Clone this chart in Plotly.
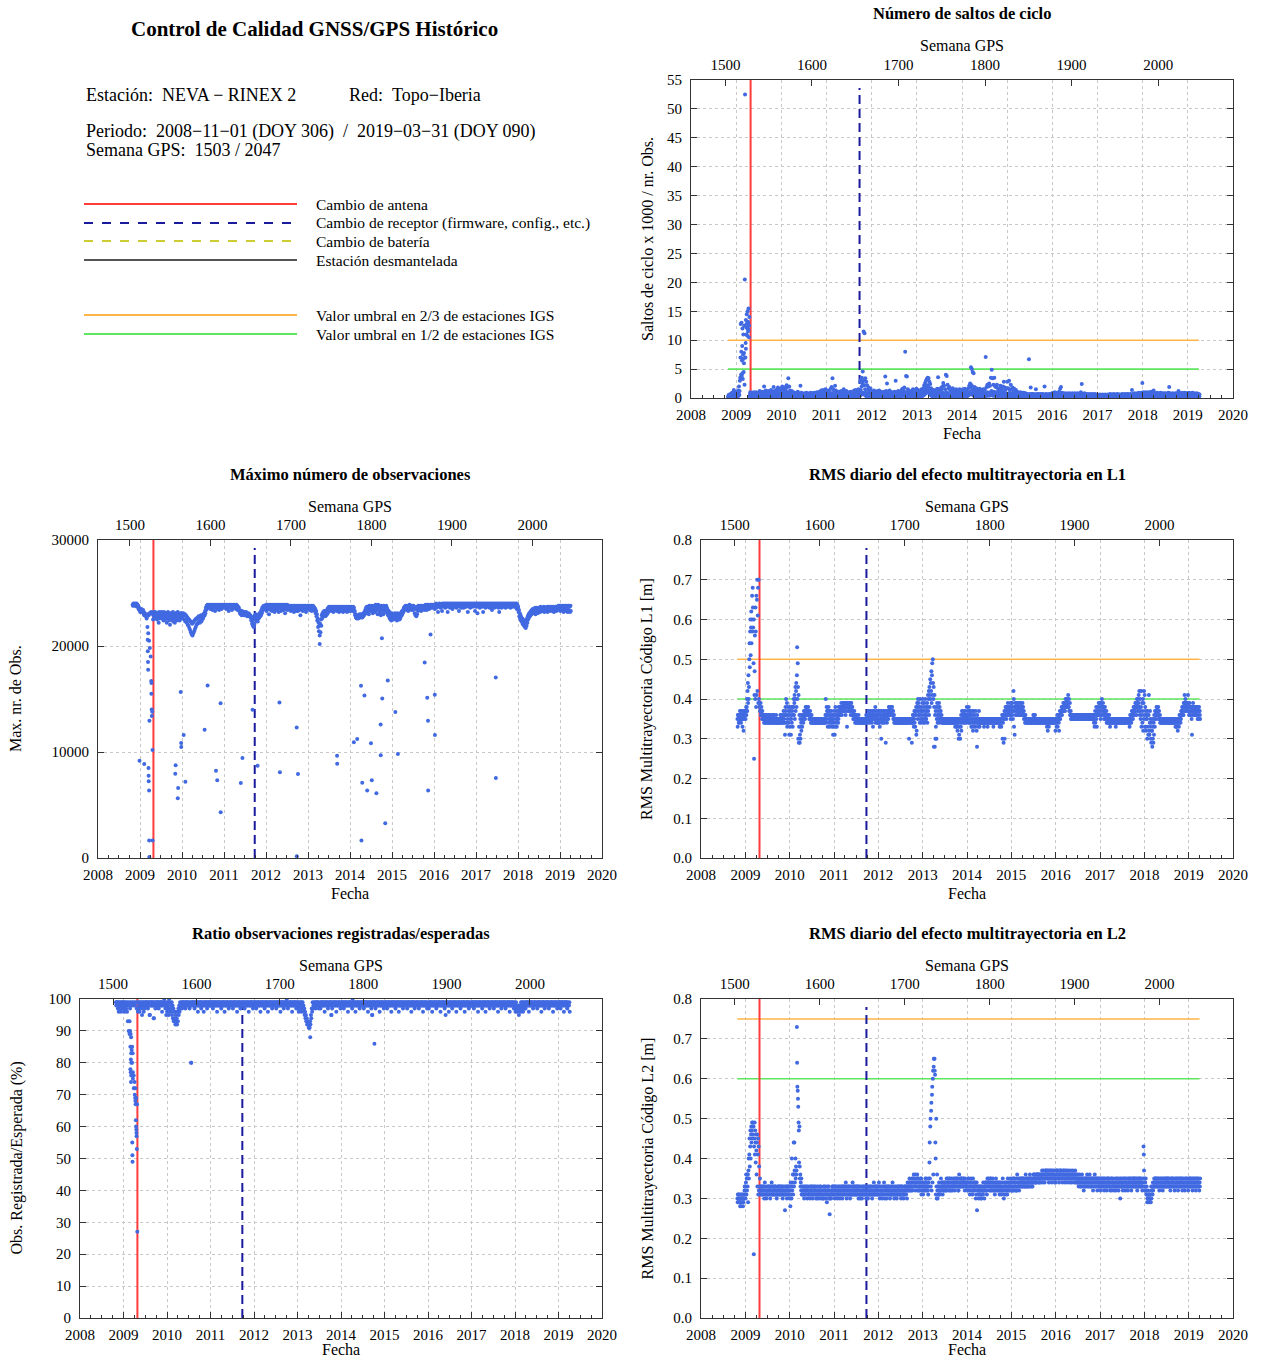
import plotly.graph_objects as go
from datetime import datetime, timedelta

# ---------------------------------------------------------------- data ----
# Data are daily samples taken on fixed days of each GPS week (blocks = calendar years)
GPS_EPOCH = datetime(1980, 1, 6)
YEAR_START_WEEK = [1503, 1512, 1564, 1616, 1668, 1721, 1773, 1825, 1877, 1929, 1981, 2033]
YEAR_TICKS = list(range(2008, 2021))

ANTENNA_CHANGES = ["2009-04-27"]
RECEIVER_CHANGES = ["2011-09-25"]
PERIOD = ["2008-10-26", "2019-03-31"]

# thresholds [2/3 IGS, 1/2 IGS]
CS_THRESH = [10, 5]
L1_THRESH = [0.5, 0.4]
L2_THRESH = [0.75, 0.6]

# ---- RMS multipath L1 (cm), samples on day 1 / 3 / 5 of each week
L1_D1 = [
 [35,36,34,37,35,36,33,36,35],
 [36,37,38,42,46,50,57,58,60,68,49,41,40, 38,65,61,70,38,37,36,35,35,35,36,34,35,
  36,34,35,34,36,35,34,35,36,34,35,34,35, 34,35,34,35,34,36,35,35,31,37,36,35,34],
 [31,33,31,34,33,38,39,40,42,46,49,41,36, 35,34,36,35,36,37,36,37,38,36,37,36,35,
  34,35,34,35,34,35,34,35,34,35,34,35,34, 35,34,35,34,40,38,37,36,35,36,35,36,34],
 [35,34,36,35,33,36,35,37,38,37,36,38,39, 37,38,39,33,38,39,37,38,39,36,37,36,35,
  36,35,34,35,34,35,34,35,34,35,34,35,35, 34,36,35,36,34,37,36,35,36,37,36,35,36],
 [36,35,34,36,37,35,34,36,35,37,36,34,36, 37,38,36,37,38,36,35,35,34,35,34,35,34,
  35,34,35,34,35,34,35,34,35,34,35,30,34, 35,34,34,36,35,37,36,32,38,37,36,40,34,37],
 [37,35,39,36,38,36,38,40,43,45,42,46,50, 43,41,30,38,39,37,36,38,36,35,34,35,34,
  35,34,35,34,35,34,35,34,35,34,35,34,35, 34,33,32,34,31,35,33,34,36,37,35,36,34],
 [38,36,35,37,34,36,33,35,37,34,33,35,28, 34,35,33,34,35,34,35,34,35,34,35,34,35,
  34,35,34,35,34,35,34,35,34,35,34,35,34, 35,35,34,30,36,35,37,36,38,37,36,38,37],
 [38,37,38,42,37,39,38,36,39,37,38,36,37, 38,36,37,35,36,34,35,34,35,34,35,34,35,
  35,36,34,35,34,35,34,35,34,35,34,35,34, 35,34,35,35,34,35,34,35,34,35,34,35,34],
 [34,35,34,33,35,36,35,37,36,38,37,39,38, 39,40,39,38,37,36,36,35,36,35,36,35,36,
  35,36,35,36,35,36,35,36,35,36,35,36,35, 36,35,36,35,36,35,36,35,37,36,33,38,37],
 [38,37,39,40,38,37,36,37,35,36,34,35,34, 35,34,35,34,35,34,35,34,35,34,35,34,35,
  34,35,34,35,34,35,34,35,35,34,35,36,35, 37,36,38,37,39,38,40,39,42,40,38,36,37],
 [39,36,38,32,35,33,36,31,33,29,32,30,34, 35,36,37,38,37,36,35,34,35,34,35,34,35,
  34,35,34,35,34,35,34,35,34,35,34,34,35, 33,34,35,34,36,35,37,38,36,39,38,37,39],
 [38,37,39,36,38,31,37,36,38,37,36,38,37,35,37],
]
L1_D3 = [
 [33,35,36,35,34,37,35,32,37],
 [37,38,40,44,40,54,60,62,66,63,60,47,63, 66,70,68,40,39,39,38,37,36,34,35,36,34,
  35,35,36,35,34,35,36,34,35,35,34,35,34, 35,34,35,36,35,34,37,36,36,40,39,38,37],
 [36,37,35,36,38,40,41,43,44,53,43,29,29, 30,32,33,36,37,36,38,38,37,38,36,35,36,
  36,34,35,34,35,34,35,34,35,34,35,34,35, 34,35,34,35,36,35,33,38,37,34,37,33,36],
 [33,36,38,37,36,37,38,36,37,39,38,37,38, 39,36,37,38,39,38,39,36,37,38,35,35,36,
  34,36,35,34,35,34,35,34,35,34,35,34,34, 36,35,37,35,36,35,34,36,37,35,38,36,34],
 [34,37,36,35,30,36,37,35,34,36,35,36,37, 38,37,38,36,36,37,36,34,35,34,35,34,35,
  34,35,34,35,34,35,34,35,34,35,34,35,35, 34,29,35,34,37,33,38,37,35,39,38,35,38,35],
 [40,38,34,40,35,39,41,42,38,40,47,49,44, 28,28,37,30,36,38,39,35,37,36,35,34,35,
  34,35,34,35,34,35,34,35,34,35,34,35,33, 35,34,35,30,35,30,36,37,35,34,36,37,36],
 [35,37,38,34,36,33,37,32,34,36,35,34,36, 35,37,34,35,34,35,34,33,34,35,34,35,34,
  35,34,35,34,35,33,35,34,35,34,35,34,35, 34,34,35,36,29,37,36,38,37,39,38,36,39],
 [36,39,35,40,31,36,37,38,37,38,36,39,38, 37,38,35,36,34,35,34,35,34,35,34,35,34,
  36,35,36,34,35,34,35,34,35,34,35,34,35, 34,35,34,33,32,34,35,34,35,34,35,34,35],
 [32,34,35,36,34,35,37,36,38,37,39,38,40, 38,39,41,40,39,37,35,36,35,36,35,36,35,
  36,35,36,35,36,35,36,35,36,35,36,35,36, 35,36,35,36,35,36,35,33,34,38,37,36,39],
 [36,39,38,37,39,38,37,35,37,34,36,34,35, 34,35,34,35,34,35,33,35,34,35,34,35,34,
  35,34,35,34,35,34,35,34,34,35,36,35,37, 36,38,37,39,38,40,39,41,38,37,42,39,40],
 [35,41,33,36,30,36,41,34,35,34,28,33,31, 33,37,38,36,38,37,36,35,34,35,34,35,34,
  35,34,35,34,35,34,35,34,35,34,35,35,34, 35,32,34,36,35,37,36,37,39,41,40,39,38],
 [41,39,36,38,37,38,39,38,36,38,37,37,36,38,36],
]
L1_D5 = [
 [36,34,35,36,37,35,36,37,36],
 [35,36,37,39,43,48,51,54,57,58,25,56,57, 41,42,39,39,37,36,37,36,35,36,34,35,35,
  34,36,34,35,35,34,35,36,34,35,36,34,35, 34,35,36,34,35,35,34,34,38,34,33,34,36],
 [38,35,38,37,36,36,35,37,38,40,30,33,31, 33,36,35,34,35,35,37,36,36,37,35,37,34,
  35,35,34,35,35,34,35,35,34,35,35,34,35, 35,34,35,36,34,37,36,34,33,35,34,35,31],
 [37,31,33,34,35,34,36,38,36,38,37,39,37, 38,39,38,39,37,37,38,39,38,37,36,37,34,
  35,34,35,36,35,35,34,35,35,34,35,35,36, 35,34,36,37,35,36,37,33,35,36,34,37,35],
 [37,34,33,37,35,34,36,37,36,29,37,35,35, 36,36,37,38,37,35,34,35,35,35,34,35,34,
  35,35,34,35,35,34,35,35,34,35,35,34,35, 35,35,36,33,34,36,31,39,40,36,34,37,36,39],
 [34,36,37,35,37,34,37,36,41,44,39,41,40, 38,36,33,35,34,35,34,37,35,34,35,35,34,
  35,35,34,35,35,34,35,35,34,35,35,34,34, 33,35,34,33,33,34,32,35,37,36,34,35,35],
 [36,34,36,35,37,35,34,36,33,35,37,32,34, 33,34,35,35,34,35,35,34,35,35,34,33,35,
  35,35,34,35,35,34,35,35,34,35,35,34,33, 35,33,36,34,35,30,38,35,36,36,37,37,35],
 [39,36,37,33,38,38,39,37,36,39,37,38,36, 39,37,36,34,35,35,35,35,34,35,35,34,35,
  34,34,35,35,34,35,35,34,35,35,34,35,35, 35,35,34,34,35,33,34,35,35,34,35,35,34],
 [35,33,36,35,32,37,36,38,37,39,38,37,39, 40,38,38,37,36,35,36,36,35,36,36,35,36,
  36,36,35,36,36,35,36,36,35,36,36,35,36, 36,36,35,36,36,35,34,36,36,35,36,37,36],
 [39,35,36,38,36,35,38,36,34,35,35,36,33, 35,35,34,35,35,34,35,35,34,35,35,34,35,
  35,35,34,35,35,34,35,35,35,33,34,34,36, 35,37,36,38,36,37,38,37,36,35,33,34,32],
 [42,33,37,35,37,31,32,37,30,32,35,29,36, 37,35,36,37,35,35,34,35,35,35,34,35,35,
  35,35,34,35,35,34,35,35,34,35,35,33,33, 34,35,33,35,34,36,38,36,38,37,39,38,37],
 [37,36,38,37,35,36,38,37,37,36,38,35,38,37,35],
]

# ---- RMS multipath L2 (cm), samples on day 1 / 3 / 5 of each week
L2_D1 = [
 [30,31,29,30,28,31,30,29,30],
 [31,34,35,33,37,41,43,46,47,49,48,45,47, 46,44,41,43,31,32,33,31,32,33,31,32,30,
  32,31,33,32,31,32,33,31,32,31,33,32,31, 32,33,31,32,31,32,33,32,27,31,32,33,31],
 [31,32,33,40,34,36,44,36,38,73,57,49,48, 36,32,31,32,31,33,32,31,32,33,31,32,31,
  32,31,33,31,32,31,32,30,31,32,31,33,32, 31,32,31,32,33,31,32,31,32,30,31,32,31],
 [32,31,32,33,31,32,31,32,33,31,32,31,32, 31,32,33,31,32,31,32,33,31,32,31,32,33,
  32,31,32,33,31,32,31,32,33,31,32,31,32, 31,32,33,31,32,31,32,33,31,32,31,32,33],
 [32,31,32,33,31,32,31,32,33,31,32,31,32, 31,32,33,31,32,31,32,33,31,32,31,32,33,
  32,31,32,33,31,32,31,33,32,33,32,33,34, 33,34,32,33,35,34,33,34,32,35,33,34,33,32],
 [33,34,32,33,34,32,33,34,39,48,52,56,60, 63,65,44,50,36,33,32,31,33,32,34,33,32,
  33,34,32,33,34,33,35,33,34,32,33,34,35, 34,33,35,33,36,34,33,35,34,33,34,35,33],
 [33,34,32,34,33,35,34,33,32,34,33,31,27, 32,30,33,31,32,33,31,32,33,34,32,33,34,
  33,34,32,33,34,32,33,31,34,33,32,34,33, 32,33,34,32,33,31,32,33,34,32,33,34,33],
 [33,34,32,33,35,33,34,32,33,34,33,34,35, 34,33,35,34,33,35,34,33,35,34,33,35,34,
  35,34,36,35,34,36,35,34,36,35,36,34,35, 36,35,37,36,35,36,37,35,36,34,36,35,36],
 [36,35,37,36,35,36,37,35,36,35,36,35,37, 36,35,36,35,36,37,35,36,35,36,35,36,35,
  35,34,35,34,35,34,35,34,33,35,34,35,34, 34,35,34,33,35,34,35,34,33,35,34,35,34],
 [34,33,35,34,33,34,35,33,34,33,34,35,33, 34,33,34,35,33,34,33,34,33,34,33,34,35,
  34,33,34,33,34,35,33,34,33,34,33,34,35, 34,33,35,34,33,34,35,33,34,35,33,34,34],
 [43,33,34,32,31,30,29,31,30,33,32,34,33, 34,33,35,34,33,34,35,33,34,33,34,35,33,
  34,33,34,35,33,34,33,34,35,33,34,33,34, 33,34,35,33,34,33,34,35,33,34,33,34,35],
 [33,34,35,33,34,33,35,34,33,34,35,33,34,33,34],
]
L2_D3 = [
 [29,30,31,28,30,29,31,30,32],
 [33,36,32,36,40,45,47,48,49,46,16,49,44, 42,46,45,32,33,31,32,33,31,32,34,31,32,
  33,32,31,33,32,34,31,32,33,32,31,30,32, 31,32,33,31,33,30,32,31,32,33,30,32,33],
 [33,28,31,33,36,44,37,40,36,64,55,47,38, 33,35,33,31,32,31,33,32,30,32,31,33,32,
  31,32,31,32,33,32,31,32,33,31,32,31,30, 32,30,33,31,32,29,31,33,31,32,30,31,33],
 [31,33,31,32,32,31,33,31,32,32,33,32,31, 32,31,32,32,31,33,31,32,32,31,33,31,32,
  31,33,31,32,32,31,33,31,32,32,33,32,31, 32,31,32,32,31,33,31,32,32,31,33,31,32],
 [31,33,31,32,32,31,33,31,32,32,33,32,31, 32,31,32,32,31,33,31,32,32,31,33,31,32,
  31,33,31,32,32,31,33,32,33,34,33,32,33, 34,33,35,34,33,36,34,33,35,34,32,33,35,34],
 [34,32,33,35,33,34,32,35,44,50,54,58,62, 65,62,40,33,32,31,34,33,32,34,33,32,34,
  32,33,35,34,33,34,33,32,35,34,34,33,34, 33,35,34,32,34,33,35,34,33,35,34,33,34],
 [34,33,35,33,32,34,33,35,33,32,34,33,33, 33,32,31,33,30,32,34,33,32,33,34,35,33,
  34,33,35,34,33,34,32,33,35,34,33,32,34, 34,32,33,35,32,33,34,31,33,35,34,32,35],
 [34,32,33,35,33,34,32,36,34,33,35,33,34, 33,35,34,33,36,34,33,35,34,36,35,34,33,
  34,36,35,34,35,36,34,36,35,36,35,36,37, 35,36,35,37,36,35,36,37,35,36,37,36,35],
 [35,36,35,37,36,35,36,37,35,36,37,36,35, 35,36,35,36,35,36,36,35,36,35,36,34,36,
  34,35,34,35,33,35,34,35,34,33,35,34,35, 35,34,35,34,33,35,34,35,34,33,35,34,33],
 [33,34,33,35,34,33,34,34,33,35,33,34,34, 33,35,33,34,34,33,34,33,35,33,34,33,34,
  33,34,33,35,33,34,34,33,34,35,34,33,34, 33,35,34,33,35,33,34,35,33,34,35,33,33],
 [41,35,32,31,29,31,30,29,31,30,33,32,34, 33,35,34,33,35,33,34,35,33,34,35,33,34,
  33,35,33,34,34,33,35,33,34,34,33,35,33, 34,33,34,34,33,35,33,34,34,33,35,33,34],
 [34,33,34,35,33,34,33,35,34,33,34,35,33,34,33],
]
L2_D5 = [
 [31,29,30,31,29,30,28,31,33],
 [30,31,36,29,35,38,40,44,45,48,43,41,39, 36,33,31,38,35,33,31,32,33,30,32,33,31,
  31,33,32,30,33,31,32,33,31,33,32,31,33, 33,31,32,33,32,31,31,33,31,32,33,31,32],
 [30,34,30,32,31,33,34,35,37,58,53,39,35, 34,31,32,33,30,32,31,33,32,31,32,30,33,
  33,30,32,33,31,30,33,31,32,30,33,32,31, 30,33,32,30,31,32,33,30,26,31,32,33,32],
 [33,30,33,31,30,33,32,30,31,33,30,33,33, 33,34,30,33,33,32,30,31,33,34,32,33,31,
  33,32,33,30,33,30,32,30,31,33,31,33,30, 33,30,31,33,33,32,30,31,34,33,32,33,31],
 [33,34,30,31,33,30,32,34,30,33,30,33,33, 33,30,31,33,34,32,30,31,33,30,32,33,31,
  33,30,33,31,30,33,32,31,30,32,34,35,32, 32,35,33,36,34,32,35,36,33,32,34,35,31,33],
 [31,33,34,32,35,33,31,33,35,33,32,34,36, 65,61,31,30,30,33,31,32,35,33,31,34,33,
  34,32,33,35,32,35,32,34,33,33,35,32,33, 35,34,32,34,33,35,34,33,35,34,32,34,33],
 [32,35,33,31,34,32,31,32,34,33,30,34,32, 31,33,32,30,33,31,32,30,34,32,31,34,35,
  32,35,33,32,35,33,34,32,33,32,34,33,31, 33,31,32,33,30,34,33,32,31,33,32,33,34],
 [32,35,34,32,34,32,35,33,35,32,34,35,33, 35,34,33,35,34,33,35,34,33,35,34,33,35,
  36,35,34,36,36,35,36,35,34,35,37,35,36, 34,37,36,35,37,34,35,36,37,35,35,37,34],
 [34,37,36,35,34,37,35,36,34,37,35,34,36, 37,34,37,36,34,35,34,37,36,34,37,35,34,
  36,33,36,33,34,36,33,32,35,34,33,36,33, 33,36,33,35,34,32,33,36,35,34,32,33,35],
 [35,32,34,33,35,32,33,35,32,34,35,33,32, 35,32,34,33,32,35,32,35,34,32,35,30,33,
  35,32,35,34,32,33,35,32,35,33,35,32,33, 35,34,33,35,34,32,33,34,35,33,34,32,35],
 [37,32,35,33,30,32,31,30,29,32,31,33,35, 35,34,33,35,34,32,33,34,35,32,33,34,35,
  35,34,35,33,35,32,34,35,33,35,32,34,35, 35,32,33,35,35,34,32,33,35,32,34,35,33],
 [32,35,33,34,35,32,34,33,35,32,33,34,35,32,35],
]

# ---- cycle slips x1000 / nr. obs., samples A/B/C of each week
CS_A = [
 [0.1,0.1,0.2,0.1,0.2,0.1,0.2,0.3,0.2],
 [0.2,0.3,0.2,0.4,0.5,3.5,4.0,6.5,3.3,4.5,2.3,7.0,11.0, 10.8,11.5,10.5,0.3,0.1,0.2,0.1,0.2,0.1,0.1,0.2,0.1,0.2,
  0.1,0.2,0.1,0.2,0.1,0.2,0.1,0.1,0.2,0.1,0.2,0.1,0.2, 0.1,0.2,0.1,0.2,0.3,0.1,0.2,0.1,0.2,0.3,0.2,0.1,0.2],
 [0.2,0.3,0.2,0.1,0.3,0.2,0.3,0.2,0.4,0.3,0.2,0.1,0.2, 0.1,0.2,0.1,0.1,0.2,0.1,0.2,0.1,0.1,0.2,0.1,0.2,0.1,
  0.1,0.1,0.2,0.1,0.1,0.2,0.1,0.1,0.2,0.1,0.1,0.2,0.1, 0.1,0.2,0.1,0.2,0.1,0.2,0.1,0.2,0.1,0.2,0.1,0.2,0.1],
 [0.2,0.1,0.2,0.1,0.2,0.1,0.2,0.3,0.2,0.1,0.2,0.1,0.2, 0.1,0.2,0.1,0.2,0.1,0.2,0.1,0.2,0.1,0.2,0.1,0.2,0.1,
  0.2,0.1,0.2,0.1,0.2,0.1,0.2,0.1,0.2,0.1,0.2,0.1,0.2, 0.3,0.5,0.6,0.8,0.9,0.7,0.5,0.4,0.3,0.2,0.3,0.2,0.3],
 [0.2,0.3,0.2,0.3,0.2,0.1,0.2,0.3,0.2,0.3,0.2,0.3,0.2, 0.3,0.2,0.3,0.4,0.3,0.2,0.3,0.2,0.3,0.2,0.3,0.2,0.3,
  0.2,0.3,0.2,0.3,0.2,0.3,0.2,0.3,0.2,0.3,0.4,0.5,0.4, 0.4,0.5,0.3,0.4,0.3,0.2,0.3,0.2,0.3,0.4,0.3,0.2,0.3,0.4],
 [0.3,0.4,0.3,0.2,0.3,0.4,0.3,0.4,0.5,0.6,0.8,1.0,1.2, 1.0,0.8,0.7,0.5,0.4,0.3,0.4,0.3,0.4,0.3,0.4,0.5,0.4,
  0.3,0.4,0.3,0.4,0.5,0.4,0.3,0.4,0.5,0.4,0.3,0.4,0.3, 0.4,0.3,0.4,0.3,0.4,0.3,0.4,0.3,0.4,0.3,0.4,0.3,0.4],
 [0.3,0.4,0.3,0.4,0.3,0.4,0.3,0.4,0.5,0.6,0.8,0.7,0.6, 0.5,0.4,0.3,0.4,0.3,0.4,0.3,0.4,0.3,0.4,0.3,0.4,0.3,
  0.4,0.3,0.4,0.5,0.4,0.5,0.4,0.5,0.6,0.5,0.4,0.5,0.4, 0.4,0.5,0.4,0.3,0.4,0.5,0.4,0.3,0.4,0.5,0.4,0.3,0.4],
 [0.4,0.3,0.4,0.3,0.4,0.3,0.4,0.3,0.4,0.3,0.4,0.3,0.3, 0.3,0.2,0.3,0.2,0.3,0.2,0.3,0.2,0.2,0.1,0.2,0.1,0.2,
  0.2,0.1,0.2,0.1,0.2,0.1,0.2,0.1,0.2,0.1,0.2,0.1,0.2, 0.1,0.2,0.1,0.2,0.1,0.2,0.1,0.2,0.1,0.2,0.1,0.2,0.1],
 [0.1,0.2,0.1,0.2,0.1,0.2,0.1,0.2,0.1,0.2,0.1,0.2,0.1, 0.1,0.1,0.2,0.1,0.1,0.2,0.1,0.1,0.2,0.1,0.1,0.2,0.1,
  0.1,0.2,0.1,0.1,0.2,0.1,0.1,0.2,0.1,0.1,0.2,0.1,0.1, 0.1,0.1,0.2,0.1,0.1,0.2,0.1,0.1,0.2,0.1,0.1,0.2,0.1],
 [0.1,0.1,0.1,0.2,0.1,0.1,0.1,0.2,0.1,0.1,0.1,0.2,0.1, 0.1,0.1,0.1,0.2,0.1,0.1,0.1,0.2,0.1,0.1,0.1,0.2,0.1,
  0.1,0.1,0.2,0.1,0.1,0.1,0.2,0.1,0.1,0.1,0.2,0.1,0.1, 0.1,0.1,0.2,0.1,0.1,0.2,0.1,0.1,0.2,0.1,0.1,0.2,0.1],
 [0.2,0.1,0.2,0.1,0.2,0.1,0.2,0.1,0.2,0.1,0.2,0.1,0.2, 0.1,0.2,0.1,0.1,0.2,0.1,0.1,0.2,0.1,0.1,0.2,0.1,0.1,
  0.1,0.2,0.1,0.1,0.2,0.1,0.1,0.2,0.1,0.1,0.2,0.1,0.1, 0.1,0.2,0.1,0.2,0.1,0.2,0.1,0.2,0.1,0.2,0.1,0.2,0.1],
 [0.1,0.2,0.1,0.2,0.1,0.2,0.1,0.2,0.1,0.2,0.1,0.2,0.1,0.2,0.1],
]
CS_B = [
 [0.3,0.2,0.4,0.3,0.5,0.4,0.6,0.8,0.5],
 [0.5,0.6,0.7,0.9,1.2,7.0,8.0,9.0,7.5,6.0,20.5,9.5,12.2, 12.0,13.0,12.5,0.6,0.3,0.4,0.3,0.5,0.3,0.4,0.3,0.5,0.4,
  0.3,0.4,0.5,0.3,0.4,0.6,0.3,0.4,0.5,0.3,0.6,0.4,0.5, 0.4,0.5,0.6,0.3,0.7,0.5,0.4,0.6,0.5,0.8,0.6,0.4,0.7],
 [0.6,0.8,0.5,0.7,0.9,0.6,0.8,1.0,0.9,0.7,0.5,0.4,0.6, 0.3,0.5,0.4,0.3,0.4,0.3,0.5,0.4,0.3,0.4,0.3,0.5,0.4,
  0.3,0.4,0.3,0.4,0.3,0.4,0.3,0.4,0.3,0.4,0.3,0.4,0.3, 0.4,0.3,0.5,0.4,0.3,0.5,0.4,0.6,0.4,0.5,0.6,0.4,0.5],
 [0.5,0.4,0.6,0.5,0.4,0.6,0.7,0.8,0.5,0.4,0.6,0.5,0.4, 0.3,0.5,0.4,0.3,0.5,0.4,0.3,0.6,0.4,0.3,0.5,0.4,0.3,
  0.4,0.3,0.5,0.4,0.3,0.5,0.4,0.6,0.5,0.4,0.5,0.6,0.5, 0.9,1.4,2.0,2.5,3.0,2.2,1.5,1.0,0.8,0.6,0.7,0.5,0.6],
 [0.4,0.5,0.4,0.6,0.4,0.3,0.4,0.5,0.4,0.6,0.4,0.5,0.4, 0.5,0.4,0.6,0.7,0.5,0.4,0.5,0.4,0.6,0.4,0.5,0.4,0.6,
  0.4,0.6,0.4,0.5,0.4,0.6,0.4,0.5,0.4,0.6,0.7,0.9,0.8, 0.8,1.0,0.7,0.6,0.6,0.5,0.6,0.5,0.6,0.7,0.6,0.5,0.6,0.7],
 [0.6,0.7,0.5,0.5,0.6,0.7,0.6,0.8,1.0,1.3,1.6,2.0,2.2, 1.9,1.5,1.2,0.9,0.7,0.6,0.7,0.5,0.7,0.6,0.7,0.9,0.7,
  0.6,0.7,0.6,0.8,0.9,0.7,0.6,0.8,1.0,0.8,0.6,0.7,0.6, 0.6,0.5,0.7,0.5,0.6,0.5,0.7,0.5,0.6,0.5,0.7,0.5,0.6],
 [0.6,0.7,0.5,0.7,0.6,0.7,0.5,0.7,0.9,1.1,1.8,2.2,1.5, 1.1,0.7,0.6,0.7,0.6,0.7,0.5,0.7,0.6,0.7,0.5,0.7,0.6,
  0.7,0.6,0.8,1.0,0.8,0.9,0.8,1.0,1.2,1.0,0.8,1.1,0.9, 0.8,1.0,0.8,0.6,0.7,0.9,0.8,0.6,0.8,1.0,0.8,0.6,0.7],
 [0.7,0.6,0.8,0.6,0.8,0.6,0.7,0.6,0.8,0.6,0.7,0.6,0.5, 0.5,0.4,0.6,0.4,0.5,0.4,0.5,0.4,0.5,0.3,0.4,0.3,0.4,
  0.4,0.3,0.4,0.3,0.4,0.4,0.3,0.3,0.4,0.3,0.3,0.4,0.4, 0.3,0.3,0.4,0.3,0.3,0.4,0.4,0.3,0.3,0.3,0.4,0.4,0.3],
 [0.3,0.4,0.3,0.5,0.4,0.3,0.4,0.3,0.5,0.4,0.3,0.4,0.3, 0.3,0.4,0.3,0.3,0.4,0.3,0.3,0.4,0.3,0.3,0.4,0.3,0.3,
  0.3,0.4,0.3,0.3,0.4,0.3,0.3,0.4,0.5,0.3,0.4,0.3,0.3, 0.3,0.3,0.4,0.3,0.3,0.4,0.3,0.3,0.4,0.3,0.3,0.4,0.3],
 [0.3,0.2,0.3,0.3,0.2,0.3,0.3,0.2,0.3,0.3,0.2,0.3,0.3, 0.2,0.3,0.3,0.2,0.3,0.3,0.2,0.3,0.3,0.2,0.3,0.3,0.2,
  0.3,0.2,0.3,0.3,0.2,0.3,0.3,0.2,0.3,0.3,0.2,0.3,0.3, 0.3,0.3,0.4,0.3,0.3,0.4,0.3,0.3,0.4,0.3,0.4,0.3,0.4],
 [0.5,0.4,0.3,0.4,0.5,0.3,0.4,0.5,0.3,0.4,0.5,0.3,0.4, 0.4,0.3,0.4,0.3,0.4,0.3,0.4,0.3,0.4,0.3,0.4,0.3,0.4,
  0.3,0.4,0.3,0.4,0.3,0.4,0.3,0.4,0.3,0.4,0.3,0.4,0.3, 0.3,0.4,0.3,1.2,0.4,0.3,0.4,0.3,0.4,0.3,0.4,0.3,0.4],
 [0.3,0.4,0.3,0.4,0.3,0.4,0.3,0.4,0.3,0.4,0.3,0.4,0.3,0.4,0.3],
]
CS_C = [
 [0.5,0.4,0.7,0.6,0.9,0.8,1.4,1.1,0.9],
 [0.9,1.0,1.3,2.0,3.0,12.8,13.0,12.0,11.0,12.5,52.5,13.5,14.5, 15.0,15.5,14.0,1.0,0.6,0.8,0.7,1.0,0.9,0.6,1.0,0.8,0.7,
  0.9,1.2,0.8,1.0,0.7,1.1,2.0,0.9,1.3,0.8,1.0,1.2,0.9, 1.0,1.4,1.1,0.9,1.9,1.2,1.0,1.3,1.5,1.8,1.4,1.1,1.6],
 [1.5,2.0,1.2,1.6,1.8,1.4,2.2,1.9,3.4,2.0,1.3,1.0,1.2, 0.8,1.0,0.7,0.6,0.9,0.7,1.1,0.8,0.6,2.1,0.9,0.8,0.7,
  0.6,0.8,0.7,0.9,0.6,0.7,0.8,0.6,0.9,0.7,0.8,0.6,0.9, 0.8,0.7,1.0,0.9,0.7,1.1,0.8,1.3,1.0,1.4,1.2,0.9,1.5],
 [1.2,0.9,1.3,1.1,1.0,1.6,1.9,3.4,1.5,1.2,2.1,1.3,1.0, 0.8,1.1,0.9,0.7,1.2,0.9,0.8,1.5,1.0,0.7,1.2,0.9,0.8,
  1.0,0.8,1.1,0.9,0.7,1.0,1.3,1.2,1.4,1.0,0.9,1.5,1.2, 2.8,3.2,3.5,4.6,11.5,11.2,3.4,2.8,2.2,1.5,1.8,1.2,1.6],
 [0.9,1.1,0.8,1.3,0.9,0.7,0.9,1.2,1.0,1.3,0.9,1.1,0.9, 1.0,0.9,1.1,3.7,1.2,2.5,1.1,0.8,1.3,0.9,1.0,0.8,1.0,
  0.9,1.1,3.0,1.0,0.8,1.2,0.9,1.1,1.0,1.4,1.6,1.3,1.8, 8.0,3.8,3.7,1.5,1.3,1.0,1.1,0.9,1.3,1.5,1.2,1.0,1.4,1.6],
 [1.1,1.4,1.0,0.9,1.2,1.5,1.3,1.7,2.2,2.6,3.0,3.3,3.5, 3.4,2.8,2.4,1.7,1.4,1.1,1.4,1.0,1.3,1.1,1.6,3.6,1.5,
  1.2,1.7,1.5,2.0,2.6,2.1,1.5,4.0,3.8,2.3,1.7,1.9,1.3, 1.5,1.2,1.7,1.0,1.4,1.1,1.5,0.9,1.3,1.1,1.5,1.0,1.4],
 [1.2,1.5,1.0,1.6,1.1,1.4,0.9,1.7,2.1,2.5,5.3,5.0,4.5, 4.3,1.9,1.3,1.7,1.2,1.5,1.0,1.6,1.1,1.4,0.9,1.5,1.2,
  1.5,7.1,1.9,2.3,2.0,2.5,2.1,3.5,4.9,3.4,2.3,3.5,2.0, 1.9,2.3,1.7,1.4,1.5,2.1,1.8,1.3,2.0,2.8,1.8,1.4,1.7],
 [2.8,1.7,3.0,1.4,2.3,1.5,1.8,1.3,1.6,1.2,1.4,1.1,1.0, 0.9,0.8,1.0,0.7,0.9,0.8,0.9,0.7,0.8,0.6,0.7,0.6,6.7,
  0.7,1.8,0.7,0.6,0.7,0.6,0.6,1.5,0.7,0.6,0.7,0.6,0.6, 0.7,0.6,0.7,0.6,2.0,0.6,0.7,0.5,0.6,0.6,0.7,0.7,0.5],
 [0.8,0.9,0.7,1.0,0.8,0.7,0.9,0.8,1.1,1.6,1.9,0.9,0.8, 0.7,0.8,0.6,0.7,0.8,0.6,0.7,0.8,0.6,0.7,0.8,0.6,0.7,
  0.8,0.7,0.6,0.8,0.7,0.6,0.8,1.0,2.4,0.7,0.6,0.8,0.7, 0.6,0.7,0.6,0.5,0.7,0.6,0.5,0.7,0.6,0.5,0.7,0.6,0.5],
 [0.6,0.5,0.5,0.6,0.5,0.4,0.6,0.5,0.5,0.6,0.4,0.5,0.6, 0.5,0.6,0.7,0.5,0.6,0.5,0.7,0.6,0.5,0.6,0.7,0.5,0.6,
  0.6,0.5,0.6,0.7,0.5,0.6,0.7,0.5,0.6,0.7,0.6,0.5,0.7, 0.6,1.4,0.7,0.6,0.8,0.7,0.6,0.8,0.7,0.9,0.8,0.7,0.9],
 [2.6,1.0,0.8,0.9,1.0,0.7,0.8,1.0,0.7,0.8,1.1,0.8,0.9, 1.3,0.7,0.8,0.6,0.9,0.7,0.8,0.6,0.9,0.7,0.8,0.6,0.8,
  0.7,0.8,0.6,0.7,0.9,1.9,0.8,0.7,0.6,0.8,0.7,0.6,0.8, 0.7,0.8,0.7,0.9,0.8,0.7,0.8,0.9,0.7,0.8,0.9,0.7,0.8],
 [0.8,0.7,0.9,0.6,0.8,0.7,0.9,0.6,0.8,0.7,0.6,0.8,0.5,0.7,0.6],
]
CS_EXTRA_DATES = ["2009-02-15", "2009-02-20", "2009-03-01", "2009-03-05", "2009-03-20", "2009-03-25", "2009-04-05", "2009-04-10"]
CS_EXTRA_VALUES = [3.8, 4.3, 6.8, 7.8, 8.5, 12.8, 13.2, 11.8]

# ---- maximum number of observations (hundreds), samples A/B of each week
MO_A = [
 [239,240,239,240,239,240,239,238,236],
 [234,233,235,233,234,232,231,230,229,228,230,229,231, 231,232,231,230,232,231,232,230,231,229,231,232,230,
  231,232,230,231,232,230,231,229,231,232,230,231,229, 231,230,232,231,229,231,230,231,232,231,230,229,231],
 [231,230,231,229,230,229,228,227,226,225,224,223,222, 221,222,223,224,225,226,226,227,228,227,228,229,228,
  229,230,231,233,236,238,239,238,239,238,239,238,239, 238,239,238,239,238,239,238,239,238,239,238,239,238],
 [239,238,239,238,239,238,239,238,239,238,239,238,239, 238,239,238,239,238,237,236,234,233,232,233,232,231,
  232,231,232,231,230,231,230,229,228,226,224,226,228, 229,230,229,228,229,230,231,232,234,236,237,238,238],
 [238,239,238,239,238,239,238,239,238,239,238,239,238, 239,238,239,238,239,238,239,238,239,238,239,238,239,
  238,239,238,237,238,237,238,237,238,237,238,237,238, 237,238,237,238,237,238,237,238,237,238,237,238,237,238],
 [238,237,238,237,238,237,238,237,236,235,233,230,226, 222,219,221,225,229,231,232,233,233,232,233,235,236,
  237,236,237,236,237,236,237,236,237,236,237,236,237, 236,237,236,237,236,237,236,237,236,237,236,237,236],
 [237,236,237,236,237,236,233,230,229,229,228,229,230, 229,230,229,230,231,232,234,236,237,236,237,238,237,
  236,238,237,236,238,237,239,238,237,239,238,236,237, 238,237,236,238,235,237,238,236,234,233,232,231,230],
 [231,230,229,230,231,230,229,231,230,229,230,231,232, 233,234,236,237,238,237,238,237,238,239,238,237,238,
  237,238,237,236,235,236,237,238,237,238,237,238,237, 238,237,238,239,238,239,238,239,238,239,239,238,239],
 [239,238,239,240,239,238,239,240,239,238,239,240,239, 240,239,240,239,240,239,240,239,240,239,240,239,240,
  239,240,239,240,239,240,239,240,239,240,239,240,239, 240,239,240,239,240,239,240,239,240,239,240,239,240],
 [239,240,239,240,239,240,239,240,239,240,239,240,239, 240,239,240,239,240,239,240,239,240,239,240,239,240,
  239,240,239,240,239,240,239,240,239,240,239,240,239, 240,239,240,239,240,239,240,239,240,239,240,239,240],
 [239,237,234,231,229,227,226,225,224,223,222,224,226, 228,230,231,232,233,234,235,234,235,236,235,236,235,
  236,235,236,237,236,235,236,237,236,235,236,237,236, 237,236,237,236,237,236,237,236,237,237,236,237,238],
 [238,237,238,237,238,237,238,237,238,238,237,238,238,237,238],
]
MO_B = [
 [238,239,238,239,238,237,238,235,234],
 [232,234,232,233,231,229,230,228,226,218,212,205,198, 190,165,138,225,228,226,229,227,225,228,222,226,229,
  228,226,229,224,227,225,228,222,226,228,224,220,227, 225,228,223,226,222,227,224,226,225,228,224,226,228],
 [228,226,229,225,223,224,222,220,219,217,215,213,211, 210,212,214,216,218,220,221,222,223,222,224,223,225,
  226,228,229,231,234,236,237,236,237,235,237,236,234, 236,237,233,237,236,235,237,234,236,237,235,236,237],
 [237,236,237,235,237,236,233,237,236,237,234,236,237, 236,237,235,236,234,235,233,231,230,229,230,231,229,
  230,229,230,228,229,230,228,227,224,221,219,218,221, 226,224,225,223,226,227,228,229,231,233,235,236,235],
 [236,233,237,235,230,236,234,237,233,236,235,232,236, 234,237,235,232,236,237,233,235,236,234,237,231,235,
  236,234,237,235,236,233,235,236,234,232,236,235,233, 235,233,236,234,229,235,236,233,235,234,236,232,235,236],
 [236,234,235,236,233,235,236,234,233,231,228,224,218, 214,210,213,219,226,228,229,230,228,229,230,231,233,
  234,235,233,236,234,232,235,234,236,233,235,234,232, 234,233,235,234,232,235,233,234,235,232,234,235,233],
 [235,234,233,235,234,232,229,227,226,227,226,227,228, 227,228,227,228,229,230,231,233,232,234,230,236,233,
  233,235,231,234,236,232,237,234,230,236,233,231,229, 235,233,230,236,232,234,235,231,229,228,226,225,224],
 [228,226,225,227,228,226,224,228,227,225,226,228,229, 231,232,234,235,236,234,236,233,235,237,236,234,236,
  234,236,231,229,228,230,233,236,234,235,233,236,235, 236,234,237,236,234,237,236,235,237,236,237,236,237],
 [237,235,238,236,237,232,238,237,236,238,233,237,238, 238,236,239,237,232,238,237,236,239,238,235,237,238,
  237,238,236,239,238,233,237,238,236,239,238,236,237, 238,237,239,232,238,237,236,239,238,237,239,238,233],
 [237,238,231,237,238,236,239,238,237,232,238,237,236, 238,237,239,238,236,237,238,234,237,238,236,239,238,
  237,238,236,232,238,237,236,238,237,239,238,236,237, 238,237,239,238,236,237,238,237,239,238,237,236,235],
 [236,232,228,226,224,223,221,220,219,218,217,219,222, 225,227,228,229,230,232,231,233,232,230,233,232,231,
  233,234,232,233,235,233,234,232,233,234,235,232,233, 234,235,233,234,235,233,232,234,235,233,235,234,235],
 [235,233,236,234,235,232,236,234,233,235,232,234,233,232,233],
]
MO_OUT_DATES = [
 "2008-12-27","2009-02-06","2009-03-15","2009-03-16","2009-03-17","2009-03-20","2009-03-21","2009-03-22",
 "2009-04-20","2009-04-19","2009-03-23","2009-04-12","2009-04-13","2009-04-08","2009-04-09","2009-03-08",
 "2009-03-09","2009-03-11","2009-03-12","2009-12-20","2009-11-06","2009-11-03","2009-11-28","2009-11-25",
 "2009-12-24","2009-12-25","2010-01-15","2010-01-30","2010-07-16","2010-08-11","2010-10-23","2010-11-03",
 "2010-12-02","2010-12-03","2011-05-27","2011-06-10","2011-09-06","2011-10-20","2012-04-27","2012-05-01",
 "2012-09-24","2012-10-05","2012-09-25","2013-04-12","2013-09-10","2013-09-11","2014-02-03","2014-03-04",
 "2014-04-06","2014-05-06","2014-04-17","2014-04-10","2014-05-30","2014-07-02","2014-07-09","2014-08-18",
 "2014-09-24","2014-09-25","2014-10-05","2014-10-08","2014-11-03","2014-11-25","2015-01-30","2015-02-21",
 "2015-10-12","2015-11-03","2015-11-10","2015-11-11","2015-12-02","2016-01-08","2016-01-09","2017-06-21",
 "2017-06-22"]
MO_OUT_VALUES = [
 9180, 8870, 8490, 7770, 7230, 6360, 1650, 100,
 1650, 10200, 12950, 14000, 13400, 16700, 15500, 20600,
 19500, 18500, 17750, 15650, 8740, 7950, 6600, 5630,
 10850, 10470, 11600, 7200, 12100, 16280, 8240, 7330,
 14610, 4310, 7080, 9430, 13980, 8710, 14680, 8080,
 12320, 7930, 160, 20200, 9650, 8900, 10910, 11220,
 16250, 15340, 7110, 1650, 6360, 10820, 7330, 6110,
 12600, 9690, 20740, 15050, 3270, 16750, 13770, 9810,
 18440, 15120, 12950, 6360, 21080, 15400, 11600, 17030,
 7550]

# ---- ratio of registered / expected observations (%), samples A/B of each week
RT_A = [
 [99,99,99,98,99,99,98,99,99],
 [99,98,99,99,98,99,98,99,97,99,98,99,98, 99,98,99,97,99,99,98,99,99,98,99,99,98,
  99,99,98,99,99,98,99,99,98,99,99,98,99, 99,98,99,99,98,99,99,98,99,99,100,99,98],
 [99,98,99,100,99,98,99,98,97,96,96,95,94, 96,97,98,99,98,99,99,98,99,98,99,99,98,
  99,98,99,99,98,99,99,98,99,99,98,99,99, 98,99,99,98,99,99,98,99,99,98,99,99,98],
 [99,98,99,99,98,99,99,98,99,99,98,99,99, 98,99,99,98,99,99,98,99,99,98,99,99,98,
  99,98,99,99,98,99,99,98,99,99,98,99,99, 98,99,99,98,99,99,98,99,99,98,99,99,98],
 [99,98,99,99,98,99,99,98,99,99,98,99,99, 98,99,99,98,99,99,98,99,99,98,99,99,98,
  99,98,99,99,98,99,99,98,99,99,98,99,99, 98,100,99,98,99,99,98,99,99,98,99,99,98,99],
 [99,98,99,99,98,99,99,98,97,96,95,94,93, 92,91,93,95,97,99,98,99,99,98,99,99,98,
  99,98,99,99,98,99,99,98,99,99,98,99,99, 98,99,99,98,99,99,98,99,99,98,99,99,98],
 [99,98,99,99,98,99,99,98,99,99,98,99,99, 98,100,99,98,99,99,98,99,99,98,99,99,98,
  99,98,99,99,98,99,99,98,99,99,98,99,99, 98,99,99,98,99,99,98,99,99,98,99,99,98],
 [99,98,99,99,98,99,99,98,99,99,98,99,99, 98,99,99,98,99,99,98,99,99,98,99,99,98,
  99,98,99,99,98,99,99,98,99,99,98,99,99, 98,99,99,98,99,99,98,99,99,98,99,99,98],
 [99,98,99,99,98,99,99,98,99,99,98,99,99, 98,99,99,98,99,99,98,99,99,98,99,99,98,
  99,98,99,99,98,99,99,98,99,99,98,99,99, 98,99,99,98,99,99,98,99,99,98,99,99,98],
 [99,98,99,99,98,99,99,98,99,99,98,99,99, 98,99,99,98,99,99,98,99,99,98,99,99,98,
  99,98,99,99,98,99,99,98,99,99,98,99,99, 98,99,99,98,99,99,98,99,99,98,99,99,98],
 [99,98,99,98,97,98,97,98,99,99,98,99,99, 98,99,99,98,99,99,98,99,99,98,99,99,98,
  99,98,99,99,98,99,99,98,99,99,98,99,99, 98,99,99,98,99,99,98,99,99,98,99,99,98],
 [99,98,99,99,98,99,99,98,99,99,98,99,99,98,99],
]
RT_B = [
 [98,99,97,96,98,97,96,98,97],
 [97,96,98,97,96,93,90,89,85,83,80,77,76, 74,72,69,67,96,97,96,98,97,95,98,96,97,
  98,99,98,97,98,95,98,99,98,98,94,98,97, 98,99,98,97,98,99,98,96,98,99,98,97,95],
 [96,97,95,96,97,96,95,94,93,94,92,93,92, 93,95,96,97,98,97,98,99,98,97,98,99,98,
  98,97,98,80,98,99,98,97,98,99,98,96,98, 98,99,97,98,98,96,98,99,98,97,98,99,98],
 [98,99,98,97,98,99,98,98,96,98,99,98,98, 97,98,99,98,96,98,98,99,98,97,98,98,99,
  98,97,98,99,98,98,96,98,99,98,97,98,98, 99,98,97,98,98,99,98,96,98,98,99,98,97],
 [98,99,98,97,98,99,98,98,96,98,99,98,98, 97,98,99,98,96,98,98,99,98,97,98,98,99,
  98,97,98,99,98,98,96,98,99,98,97,98,98, 99,98,97,98,98,99,98,96,98,98,99,98,97,98],
 [97,96,98,97,96,98,97,96,95,94,93,92,92, 91,91,92,94,96,97,98,98,97,98,99,98,97,
  98,97,98,99,98,98,96,98,99,98,97,98,98, 99,95,97,98,98,99,98,96,98,98,99,98,97],
 [98,99,98,97,98,99,98,98,96,98,99,98,98, 97,98,99,98,96,98,98,99,98,97,98,98,99,
  98,97,98,99,98,98,96,98,99,98,97,95,98, 99,98,97,98,98,99,98,96,98,98,99,98,97],
 [98,99,98,97,98,99,98,98,96,98,99,98,98, 97,98,99,98,96,98,98,99,98,97,98,98,99,
  98,97,98,99,98,98,96,98,99,98,97,98,98, 99,98,97,98,98,99,98,96,98,98,99,98,97],
 [98,97,98,99,98,96,98,98,99,98,97,98,98, 99,98,96,98,98,99,98,97,98,98,99,98,96,
  98,99,98,97,98,98,99,98,96,98,98,99,98, 97,98,98,99,98,96,98,98,99,98,97,98,98],
 [98,99,98,97,98,99,98,98,96,98,99,98,98, 97,98,99,98,96,98,98,99,98,97,98,98,99,
  98,97,98,99,98,98,96,98,99,98,97,98,98, 99,98,97,98,98,99,98,96,98,98,99,98,97],
 [97,96,98,96,97,95,97,96,98,97,96,98,97, 97,98,99,98,96,98,98,99,98,97,98,98,99,
  98,97,98,99,98,98,96,98,99,98,97,98,98, 99,98,97,98,98,99,98,96,98,98,99,98,97],
 [98,99,98,97,98,99,98,96,98,99,98,97,98,98,96],
]
RT_OUT_DATES = [
 "2009-02-20","2009-02-25","2009-03-01","2009-03-05","2009-03-14","2009-03-10","2009-03-18","2009-03-03",
 "2009-03-07","2009-02-27","2009-03-02","2009-03-06","2009-03-20","2009-03-04","2009-03-15","2009-03-16",
 "2009-03-17","2009-03-28","2009-04-01","2009-04-05","2009-04-08","2009-04-10","2009-04-12","2009-04-14",
 "2009-04-16","2009-04-18","2009-04-19","2009-04-20","2009-04-22","2009-04-26",
 "2010-07-22","2014-10-08","2013-04-17","2009-08-10","2009-09-12","2013-10-12","2014-09-20","2016-05-28"]
RT_OUT_VALUES = [
 93, 90, 89, 88, 85, 84, 83, 81,
 80, 78, 77, 76, 75, 74, 55, 51,
 49, 72, 72, 70, 69, 68, 67, 62,
 60, 59, 58, 57, 53, 27,
 80, 86, 88, 95, 94, 95, 95, 95]

# --------------------------------------------------------------- helpers ---
W, H = 1263, 1360
FONT = "Liberation Serif"
DOT = "#4169e1"
RED = "#ff3b3b"
NAVY = "#1a1a9c"
ORANGE = "#ffb547"
GREEN = "#5fe65f"


def week_series(blocks_and_days, scale=1.0):
    xs, ys = [], []
    for blocks, day in blocks_and_days:
        for start, vals in zip(YEAR_START_WEEK, blocks):
            for i, v in enumerate(vals):
                xs.append(GPS_EPOCH + timedelta(weeks=start + i, days=day))
                ys.append(v * scale)
    return xs, ys


def to_week(d):
    return (d - GPS_EPOCH).total_seconds() / (7 * 86400.0)


def fx(px):
    return px / W


def fy(py):
    return 1 - py / H


fig = go.Figure()
anns = []
shapes = []


def text(s, x, y, size=15, bold=False, xanchor="center", angle=0):
    anns.append(dict(text=("<b>%s</b>" % s) if bold else s, x=fx(x), y=fy(y), xref="paper", yref="paper",
                     showarrow=False, xanchor=xanchor, yanchor="middle", textangle=angle,
                     font=dict(family=FONT, size=size, color="black")))


panels = [
    (1, (691, 1233, 80, 398), [0, 55], 5, "d", "Número de saltos de ciclo",
     "Saltos de ciclo x 1000 / nr. Obs.", CS_THRESH),
    (2, (98, 602, 540, 858), [0, 30000], 10000, "d", "Máximo número de observaciones",
     "Max. nr. de Obs.", None),
    (3, (701, 1233, 540, 858), [0, 0.8], 0.1, ".1f", "RMS diario del efecto multitrayectoria en L1",
     "RMS Multitrayectoria Código L1 [m]", L1_THRESH),
    (4, (80, 602, 999, 1318), [0, 100], 10, "d", "Ratio observaciones registradas/esperadas",
     "Obs. Registrada/Esperada (%)", None),
    (5, (701, 1233, 999, 1318), [0, 0.8], 0.1, ".1f", "RMS diario del efecto multitrayectoria en L2",
     "RMS Multitrayectoria Código L2 [m]", L2_THRESH),
]

series = {
    1: [week_series([(CS_A, 1), (CS_B, 3), (CS_C, 5)]),
        ([datetime.fromisoformat(d) for d in CS_EXTRA_DATES], CS_EXTRA_VALUES)],
    2: [week_series([(MO_A, 2), (MO_B, 5)], 100),
        ([datetime.fromisoformat(d) for d in MO_OUT_DATES], MO_OUT_VALUES)],
    3: [week_series([(L1_D1, 1), (L1_D3, 3), (L1_D5, 5)], 0.01)],
    4: [week_series([(RT_A, 2), (RT_B, 5)]),
        ([datetime.fromisoformat(d) for d in RT_OUT_DATES], RT_OUT_VALUES)],
    5: [week_series([(L2_D1, 1), (L2_D3, 3), (L2_D5, 5)], 0.01)],
}

x_start = datetime(YEAR_TICKS[0], 1, 1)
x_end = datetime(YEAR_TICKS[-1], 1, 1)
wk_range = [to_week(x_start), to_week(x_end)]

tickfont = dict(family=FONT, size=15, color="black")
layout_axes = {}
for idx, (l, r, t, b), yr, dt, fmt, title, ytitle, thr in panels:
    xa = "x" if idx == 1 else "x%d" % idx
    ya = "y" if idx == 1 else "y%d" % idx
    topn = idx + 5
    xn = "xaxis" if idx == 1 else "xaxis%d" % idx
    yn = "yaxis" if idx == 1 else "yaxis%d" % idx

    if thr:
        for val, col in zip(thr, [ORANGE, GREEN]):
            fig.add_trace(go.Scatter(x=PERIOD, y=[val, val], mode="lines", line=dict(color=col, width=1.6),
                                     xaxis=xa, yaxis=ya, showlegend=False, hoverinfo="skip"))
    for d in ANTENNA_CHANGES:
        fig.add_trace(go.Scatter(x=[d, d], y=[yr[0], yr[1]], mode="lines", line=dict(color=RED, width=2),
                                 xaxis=xa, yaxis=ya, showlegend=False, hoverinfo="skip"))
    for d in RECEIVER_CHANGES:
        fig.add_trace(go.Scatter(x=[d, d], y=[yr[0], yr[1] * 0.975], mode="lines",
                                 line=dict(color=NAVY, width=2, dash="9px,5px"),
                                 xaxis=xa, yaxis=ya, showlegend=False, hoverinfo="skip"))
    for xs, ys in series[idx]:
        fig.add_trace(go.Scatter(x=xs, y=ys, mode="markers", marker=dict(color=DOT, size=4, line=dict(width=0)),
                                 xaxis=xa, yaxis=ya, showlegend=False, hoverinfo="skip"))
    fig.add_trace(go.Scatter(x=[None], y=[None], xaxis="x%d" % topn, yaxis=ya, showlegend=False, hoverinfo="skip"))

    layout_axes[xn] = dict(domain=[fx(l), fx(r)], anchor=ya, type="date", range=[x_start, x_end],
                           tick0="2008-01-01", dtick="M12", tickformat="%Y", ticks="inside", ticklen=6,
                           tickcolor="#333", showline=True, linecolor="#333", linewidth=1.2, mirror=False,
                           showgrid=True, gridcolor="#c8c8c8", griddash="dot", gridwidth=1,
                           tickfont=tickfont, ticklabelstandoff=3, zeroline=False, automargin=False,
                           minor=dict(dtick="M3", ticks="inside", ticklen=3, tickcolor="#333", showgrid=False))
    layout_axes["xaxis%d" % topn] = dict(overlaying=xa, anchor=ya, side="top", range=wk_range,
                                         tick0=1500, dtick=100, ticks="inside", ticklen=6, tickcolor="#333",
                                         showline=True, linecolor="#333", linewidth=1.2, showgrid=False,
                                         zeroline=False, tickfont=tickfont, ticklabelstandoff=3,
                                         automargin=False)
    layout_axes[yn] = dict(domain=[fy(b), fy(t)], anchor=xa, range=yr, dtick=dt, tick0=0, tickformat=fmt,
                           ticks="inside", ticklen=6, tickcolor="#333", showline=True, linecolor="#333",
                           linewidth=1.2, mirror="ticks", showgrid=True, gridcolor="#c8c8c8", griddash="dot",
                           zeroline=False, tickfont=tickfont, ticklabelstandoff=5, automargin=False)

    cx = (l + r) / 2
    text(title, cx, t - 66, size=16.5, bold=True)
    text("Semana GPS", cx, t - 34, size=16)
    text("Fecha", cx, min(b + 35, 1349), size=16)
    ylab_x = 647 if l > 600 else 16
    text(ytitle, ylab_x, (t + b) / 2, size=16, angle=-90)

# ---------------------------------------------------------- info panel ----
text("Control de Calidad GNSS/GPS Histórico", 314, 29, size=21, bold=True)
S = "\u00a0"
text("Estación:" + S * 2 + "NEVA − RINEX 2", 84, 95, size=18, xanchor="left")
text("Red:" + S * 2 + "Topo−Iberia", 347, 95, size=18, xanchor="left")
text("Periodo:" + S * 2 + "2008−11−01 (DOY 306)" + S * 2 + "/" + S * 2 + "2019−03−31 (DOY 090)", 84, 131,
     size=18, xanchor="left")
text("Semana GPS:" + S * 2 + "1503 / 2047", 84, 150, size=18, xanchor="left")

legend_items = [
    (204, RED, "solid", "Cambio de antena"),
    (223, NAVY, "dash", "Cambio de receptor (firmware, config., etc.)"),
    (241, "#cccc33", "dash", "Cambio de batería"),
    (260, "#555555", "solid", "Estación desmantelada"),
    (315, ORANGE, "solid", "Valor umbral en 2/3 de estaciones IGS"),
    (334, GREEN, "solid", "Valor umbral en 1/2 de estaciones IGS"),
]
for y, col, dash, lab in legend_items:
    shapes.append(dict(type="line", xref="paper", yref="paper", x0=fx(84), x1=fx(297), y0=fy(y), y1=fy(y),
                       line=dict(color=col, width=2, dash=dash)))
    text(lab, 314, y, size=15.5, xanchor="left")

fig.update_layout(width=W, height=H, margin=dict(l=0, r=0, t=0, b=0, autoexpand=False), paper_bgcolor="white",
                  plot_bgcolor="white", showlegend=False, annotations=anns, shapes=shapes,
                  font=dict(family=FONT, color="black"), **layout_axes)
fig.write_html("out.html", config={"displayModeBar": False},
               post_script="document.body.style.margin='0';document.body.style.overflow='hidden';")
